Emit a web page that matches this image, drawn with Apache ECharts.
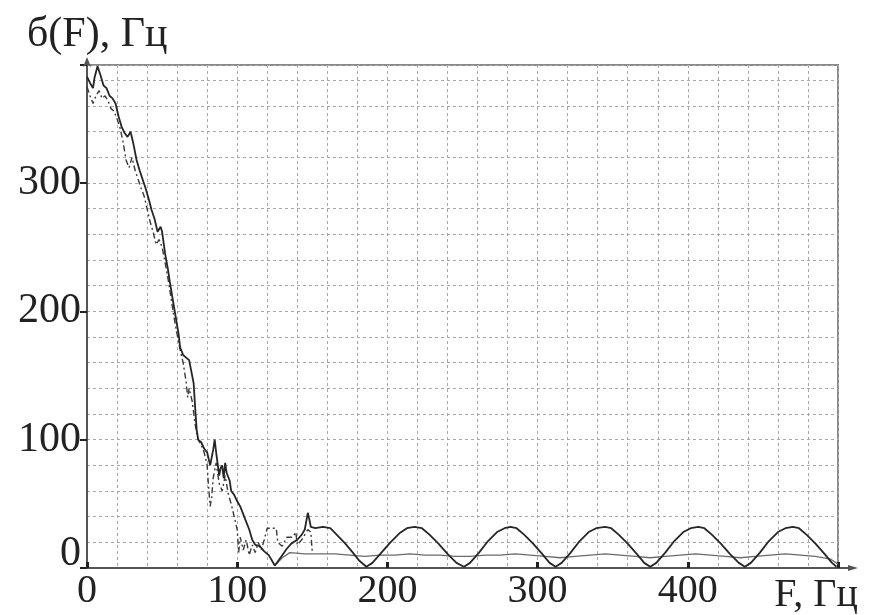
<!DOCTYPE html>
<html>
<head>
<meta charset="utf-8">
<script src="https://cdn.jsdelivr.net/npm/echarts@6/dist/echarts.min.js"></script>
<style>html,body{margin:0;padding:0;background:#fff}#c{width:872px;height:615px}</style>
</head>
<body>
<div id="c"></div>
<script>
// ---- data ----
const yTitle = 'б(F), Гц';
const xTitle = 'F, Гц';
const xTicks = [0, 100, 200, 300, 400];
const yTicks = [0, 100, 200, 300];

// solid main curve: [F, value]
const seriesMain = [
 [0,383],[2,378],[4,374],[5,382],[7,391],[9,384],[11,376],[13,374],[15,368],[17,366],[19,362],
 [21,352],[23,344],[25,339],[27,336],[29,340],[31,330],[33,318],[35,310],[37,303],[39,296],
 [41,288],[43,279],[45,272],[47,262],[49,266],[50,262],[52,245],[54,232],[55,224],[57,210],
 [59,196],[61,182],[62,172],[64,166],[66,164],[68,162],[69,156],[71,144],[72,125],[73,108],
 [74,100],[76,98],[78,93],[80,90],[82,80],[84,92],[85,100],[86,90],[88,72],[89,78],[90,80],
 [91,70],[92,82],[93,74],[95,68],[96,60],[98,57],[100,52],[102,48],[104,42],[106,36],[108,30],
 [110,22],[112,18],[115,17],[118,13],[121,10],[123,6],[125,2],[127,5],[130,10],[133,15],
 [136,19],[140,22],[143,26],[145,30],[147,43],[148,38],[149,32],[152,31],[157,32],[162,31],
 [167,25],[172,19],[177,12],[181,6],[186,1],
 [190,4],[196,12],[202,20],[208,27],[213,31],[218,32],[223,31],[228,26],[234,19],[240,11],[246,4],[251,1],
 [255,4],[261,12],[267,21],[273,28],[278,31],[282,32],[286,31],[291,26],[297,19],[303,11],[308,4],[312,1],
 [316,4],[322,12],[328,21],[334,28],[339,31],[345,32],[349,31],[354,26],[360,19],[366,11],[371,4],[375,1],
 [379,4],[385,12],[391,21],[397,28],[402,31],[407,32],[411,31],[416,26],[422,19],[428,11],[434,4],[438,1],
 [442,4],[448,12],[454,21],[460,28],[465,31],[470,32],[474,31],[479,26],[485,19],[491,11],[496,4],[499,1]
];

// dash-dot curve
const seriesDash = [
 [0,375],[2,368],[4,362],[6,368],[8,372],[10,366],[12,368],[14,364],[16,358],[18,356],[20,350],
 [22,343],[24,332],[26,318],[28,312],[30,320],[32,310],[34,303],[36,296],[38,290],[40,280],
 [42,270],[44,262],[46,252],[48,256],[50,250],[52,238],[54,225],[56,210],[58,195],[60,182],
 [62,170],[64,160],[66,145],[67,133],[68,140],[70,130],[72,112],[74,100],[76,96],[78,90],
 [80,80],[81,62],[82,48],[83,55],[84,70],[86,82],[88,66],[90,60],[92,72],[94,58],[96,50],
 [98,40],[100,30],[101,12],[102,24],[104,14],[106,22],[108,10],[110,18],[112,12],[114,20],
 [116,14],[118,22],[120,31],[124,31],[126,31],[127,20],[130,17],[133,24],[137,24],[139,28],
 [140,18],[143,22],[147,30],[149,28],[150,12]
];

// low ripple curve
const seriesLow = [
 [125,2],[130,8],[135,12],[145,11],[155,11],[165,11],[175,10],[185,9],[195,10],[205,10],
 [215,11],[225,10],[235,10],[245,9],[255,9],[265,10],[275,10],[285,11],[295,10],[305,9],
 [315,8],[325,9],[335,10],[345,11],[355,10],[365,9],[375,8],[385,9],[395,10],[405,11],
 [415,10],[425,9],[435,8],[445,9],[455,10],[465,11],[475,10],[485,9],[495,7],[500,3]
];

const xMin = 0, xMax = 500, yMin = 0, yMax = 392;

const font = "'Liberation Serif','Times New Roman',serif";
const chart = echarts.init(document.getElementById('c'));
const gridLine = {show:true, lineStyle:{color:'#a8a8a8', width:1, type:[3,3]}};

chart.setOption({
  backgroundColor:'#fff',
  animation:false,
  title:{text:yTitle, left:22, top:9, textStyle:{fontFamily:font, fontSize:42, fontWeight:'normal', color:'#222'}},
  grid:{left:87, right:34, top:65, bottom:45, show:true, borderColor:'#8a8a8a', borderWidth:2, backgroundColor:'transparent'},
  xAxis:[
    {type:'value', min:xMin, max:xMax, interval:20, position:'bottom',
     axisLine:{show:true, onZero:false, lineStyle:{color:'#555', width:2}},
     axisTick:{show:false}, axisLabel:{show:false}, splitLine:gridLine},
    {type:'value', min:xMin, max:xMax, interval:100, position:'bottom',
     axisLine:{show:false}, splitLine:{show:false},
     axisTick:{show:true, inside:true, length:6, lineStyle:{color:'#222', width:3}},
     axisLabel:{show:true, margin:3, fontFamily:font, fontSize:40, color:'#222',
       formatter:v => xTicks.indexOf(v) >= 0 ? String(v) : ''},
     name:xTitle, nameLocation:'end', nameGap:-22,
     nameTextStyle:{fontFamily:font, fontSize:40, color:'#222', align:'center', verticalAlign:'top', padding:[7,0,0,0]}}
  ],
  yAxis:[
    {type:'value', min:yMin, max:yMax, interval:20, position:'left',
     axisLine:{show:true, onZero:false, lineStyle:{color:'#555', width:2}, symbol:['none','arrow'], symbolSize:[6,10], symbolOffset:[0,8]},
     axisTick:{show:false}, axisLabel:{show:false}, splitLine:gridLine},
    {type:'value', min:yMin, max:yMax, interval:100, position:'left',
     axisLine:{show:false}, splitLine:{show:false},
     axisTick:{show:true, length:7, lineStyle:{color:'#222', width:2}},
     axisLabel:{show:true, margin:6, fontFamily:font, fontSize:42, color:'#222',
       formatter:v => v === 0 ? '{z|0}' : (yTicks.indexOf(v) >= 0 ? String(v) : ''),
       rich:{z:{fontFamily:font, fontSize:42, color:'#222', padding:[0,0,28,0]}}}}
  ],
  series:[
    {type:'line', data:seriesLow, xAxisIndex:0, yAxisIndex:0, showSymbol:false, lineStyle:{color:'#6a6a6a', width:1.3}},
    {type:'line', data:seriesDash, xAxisIndex:0, yAxisIndex:0, showSymbol:false, lineStyle:{color:'#3a3a3a', width:1.4, type:[6,3,2,3]}},
    {type:'line', data:seriesMain, xAxisIndex:0, yAxisIndex:0, showSymbol:false, lineStyle:{color:'#262626', width:1.8}}
  ]
});

// x-axis line extension with arrow beyond the plot frame
const pEnd = chart.convertToPixel({xAxisIndex:0, yAxisIndex:0}, [xMax, yMin]);
chart.setOption({graphic:[
  {type:'line', shape:{x1:pEnd[0], y1:pEnd[1], x2:pEnd[0]+15, y2:pEnd[1]}, style:{stroke:'#555', lineWidth:2}},
  {type:'polygon', shape:{points:[[pEnd[0]+20,pEnd[1]],[pEnd[0]+10,pEnd[1]-3],[pEnd[0]+10,pEnd[1]+3]]}, style:{fill:'#555'}}
]});
</script>
</body>
</html>
